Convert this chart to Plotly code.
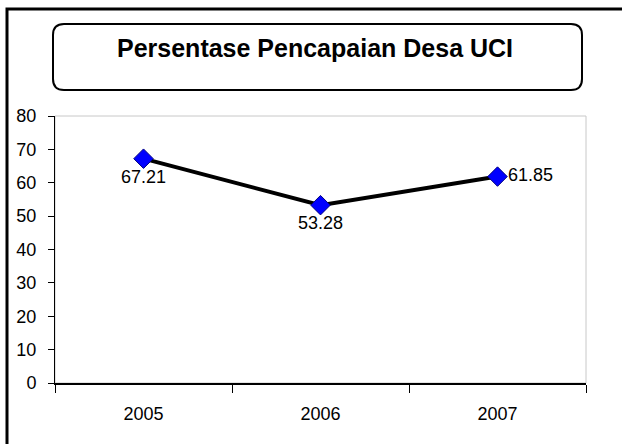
import plotly.graph_objects as go

years = ["2005", "2006", "2007"]
values = [67.21, 53.28, 61.85]
label_pos = ["bottom center", "bottom center", "middle right"]
title_text = "Persentase Pencapaian Desa UCI"

W, H = 622, 444
L, R, T, B = 55, 586, 116, 383
FONT = "Liberation Sans, Arial"

def px(x):
    return (x - L) / (R - L)

def py(y):
    return (B - y) / (B - T)

fig = go.Figure()
fig.add_trace(go.Scatter(
    x=years, y=values, mode="lines+markers+text",
    line=dict(color="black", width=4),
    marker=dict(symbol="diamond", size=15, color="#0000FF",
                line=dict(color="#000080", width=1)),
    text=[f"{v:.2f}" for v in values], textposition=label_pos,
    textfont=dict(family=FONT, size=18, color="black"),
    cliponaxis=False, showlegend=False, hoverinfo="skip",
))

x0, x1, y0, y1, r = 53, 582, 24, 90, 11
def P(x, y):
    return f"{px(x)},{py(y)}"
path = (f"M {P(x0 + r, y0)} L {P(x1 - r, y0)} Q {P(x1, y0)} {P(x1, y0 + r)} "
        f"L {P(x1, y1 - r)} Q {P(x1, y1)} {P(x1 - r, y1)} "
        f"L {P(x0 + r, y1)} Q {P(x0, y1)} {P(x0, y1 - r)} "
        f"L {P(x0, y0 + r)} Q {P(x0, y0)} {P(x0 + r, y0)} Z")

shapes = [
    dict(type="rect", xref="paper", yref="paper", x0=0, x1=1, y0=0, y1=1,
         line=dict(color="#C8C8C8", width=1), layer="below"),
    dict(type="path", xref="paper", yref="paper",
         path=f"M {P(7, 460)} L {P(7, 9)} L {P(640, 9)}",
         line=dict(color="black", width=3)),
    dict(type="path", xref="paper", yref="paper", path=path,
         line=dict(color="black", width=2), fillcolor="white"),
]

fig.update_layout(
    width=W, height=H,
    margin=dict(l=L, r=W - R, t=T, b=H - B, pad=0),
    paper_bgcolor="white", plot_bgcolor="white",
    font=dict(family=FONT, size=18, color="black"),
    shapes=shapes,
    annotations=[dict(text=f"<b>{title_text}</b>", xref="paper", yref="paper",
                      x=px(315), y=py(48), xanchor="center", yanchor="middle",
                      showarrow=False,
                      font=dict(family=FONT, size=25, color="black"))],
    xaxis=dict(type="category", tickson="boundaries", ticks="outside", ticklen=8,
               tickcolor="black", showline=True, linecolor="black", linewidth=2,
               showgrid=False, zeroline=False, range=[-0.5, 2.5],
               ticklabelstandoff=13),
    yaxis=dict(range=[0, 80], dtick=10, ticks="outside", ticklen=6,
               tickcolor="black", showline=True, linecolor="black", linewidth=1,
               showgrid=False, zeroline=False, ticklabelstandoff=8),
)

fig.write_html("out.html", post_script="document.body.style.margin='0';",
               config={"displayModeBar": False})
